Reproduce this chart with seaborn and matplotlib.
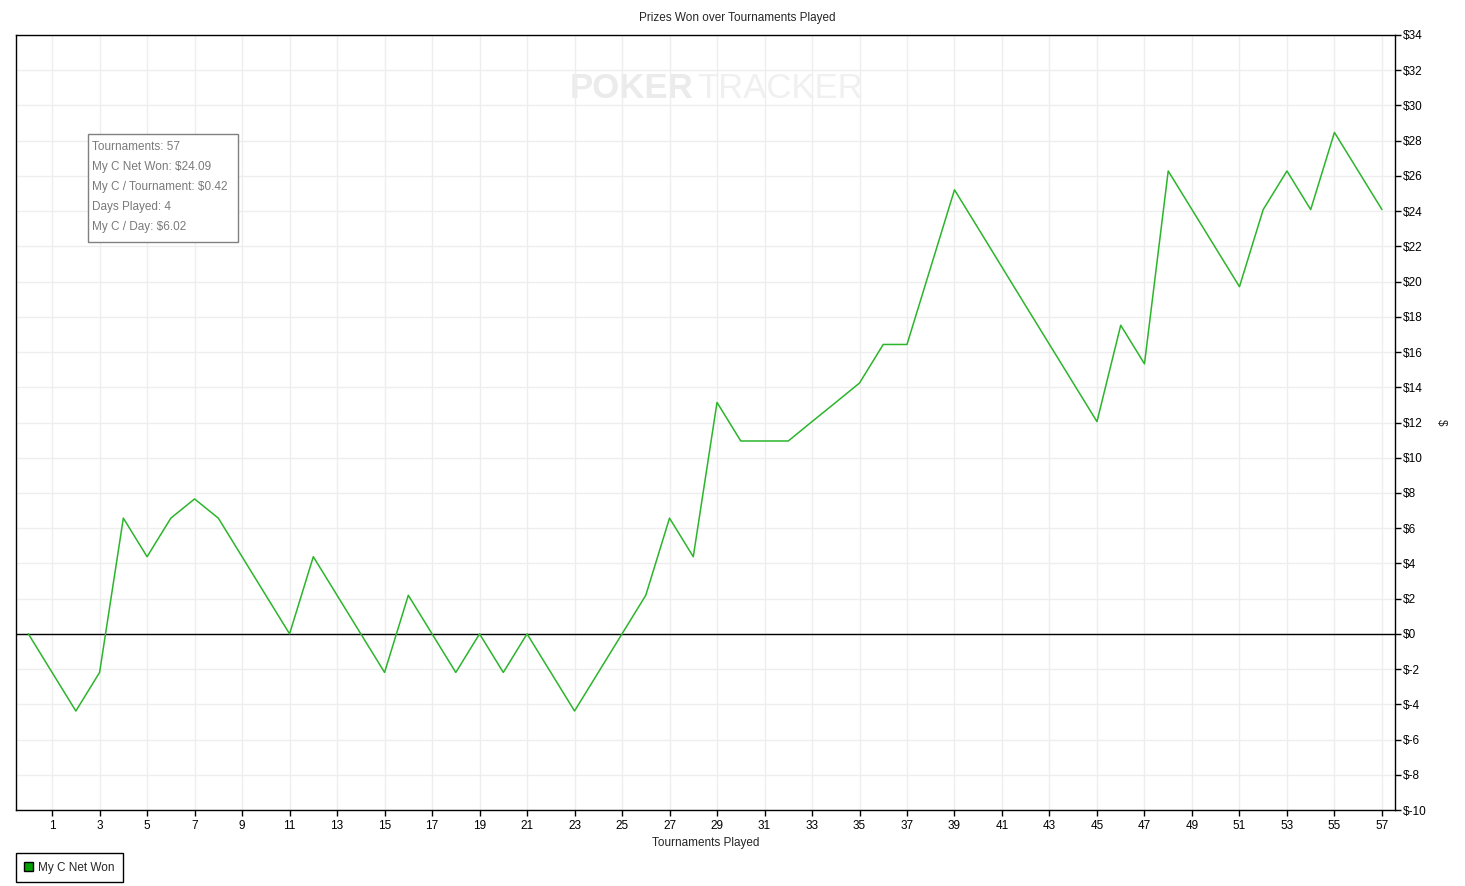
import pandas as pd
import seaborn as sns
import matplotlib.pyplot as plt
from matplotlib.patches import Rectangle, Patch
from matplotlib.ticker import FuncFormatter

# データ
tournaments = list(range(58))
net_won = [0, -2.19, -4.38, -2.19, 6.57, 4.38, 6.57, 7.66, 6.57, 4.38,
           2.19, 0, 4.38, 2.19, 0, -2.19, 2.19, 0, -2.19, 0,
           -2.19, 0, -2.19, -4.38, -2.19, 0, 2.19, 6.57, 4.38, 13.14,
           10.95, 10.95, 10.95, 12.05, 13.14, 14.24, 16.43, 16.43, 20.82, 25.21,
           23.02, 20.82, 18.62, 16.43, 14.24, 12.05, 17.52, 15.33, 26.28, 24.09,
           21.90, 19.71, 24.09, 26.28, 24.09, 28.47, 26.28, 24.09]
x_ticks = list(range(1, 58, 2))
y_ticks = list(range(-10, 35, 2))
info_lines = ["Tournaments: 57", "My C Net Won: $24.09",
              "My C / Tournament: $0.42", "Days Played: 4", "My C / Day: $6.02"]

df = pd.DataFrame({'played': tournaments, 'won': net_won})

sns.set_style("white")
plt.rcParams['font.family'] = ['Liberation Sans', 'DejaVu Sans']

W, H = 1465, 886
fig = plt.figure(figsize=(W / 100, H / 100), dpi=100)
ax = fig.add_axes([16 / W, (H - 810) / H, (1395 - 16) / W, 775 / H])

# 透かし
ax.text(0.491, 0.931, "POKER", transform=ax.transAxes, ha='right', va='center',
        fontsize=25, fontweight='bold', color='#ebebeb', zorder=0)
ax.text(0.494, 0.931, "TRACKER", transform=ax.transAxes, ha='left', va='center',
        fontsize=25, color='#f0f0f0', zorder=0)

ax.axhline(0, color='black', lw=1, zorder=2)
sns.lineplot(data=df, x='played', y='won', color='#2bb52b', lw=1.1,
             ax=ax, legend=False, zorder=3)

ax.set_xlim(-0.52, 57.55)
ax.set_ylim(-10, 34)
ax.set_xticks(x_ticks)
ax.set_yticks(y_ticks)
ax.yaxis.set_major_formatter(FuncFormatter(lambda v, p: f"${int(v)}"))
ax.yaxis.tick_right()
ax.yaxis.set_label_position('right')
ax.tick_params(axis='both', direction='out', length=4, width=1, color='black',
               labelsize=8.5, labelcolor='black', bottom=True, left=False, right=True)
ax.tick_params(axis='y', pad=2)
ax.grid(True, color='#eeeeee', lw=1)
ax.set_axisbelow(True)
for s in ax.spines.values():
    s.set_color('black')
    s.set_linewidth(1)

ax.set_xlabel("Tournaments Played", fontsize=8.5, labelpad=3)
ax.set_ylabel("$", fontsize=8.5, rotation=270, labelpad=14)
fig.text(737 / W, 1 - 18 / H, "Prizes Won over Tournaments Played",
         ha='center', va='center', fontsize=8.5)

# 集計ボックス
fig.patches.append(Rectangle((88 / W, 1 - 242 / H), 150 / W, 108 / H,
                             transform=fig.transFigure, fill=True, facecolor='white',
                             edgecolor='#808080', lw=1, zorder=5))
for i, line in enumerate(info_lines):
    fig.text(92 / W, 1 - (147 + 20 * i) / H, line, ha='left', va='center',
             fontsize=8.5, color='#7a7a7a', zorder=6)

# 凡例
handle = Patch(facecolor='#00a000', edgecolor='black', label='My C Net Won')
fig.legend(handles=[handle], loc='lower left', bbox_to_anchor=(16 / W, 4 / H),
           fontsize=8.5, frameon=True, fancybox=False, edgecolor='black',
           framealpha=1, handlelength=0.75, handleheight=0.75, handletextpad=0.4,
           borderpad=0.7, borderaxespad=0)

fig.savefig("out.png", dpi=100)
